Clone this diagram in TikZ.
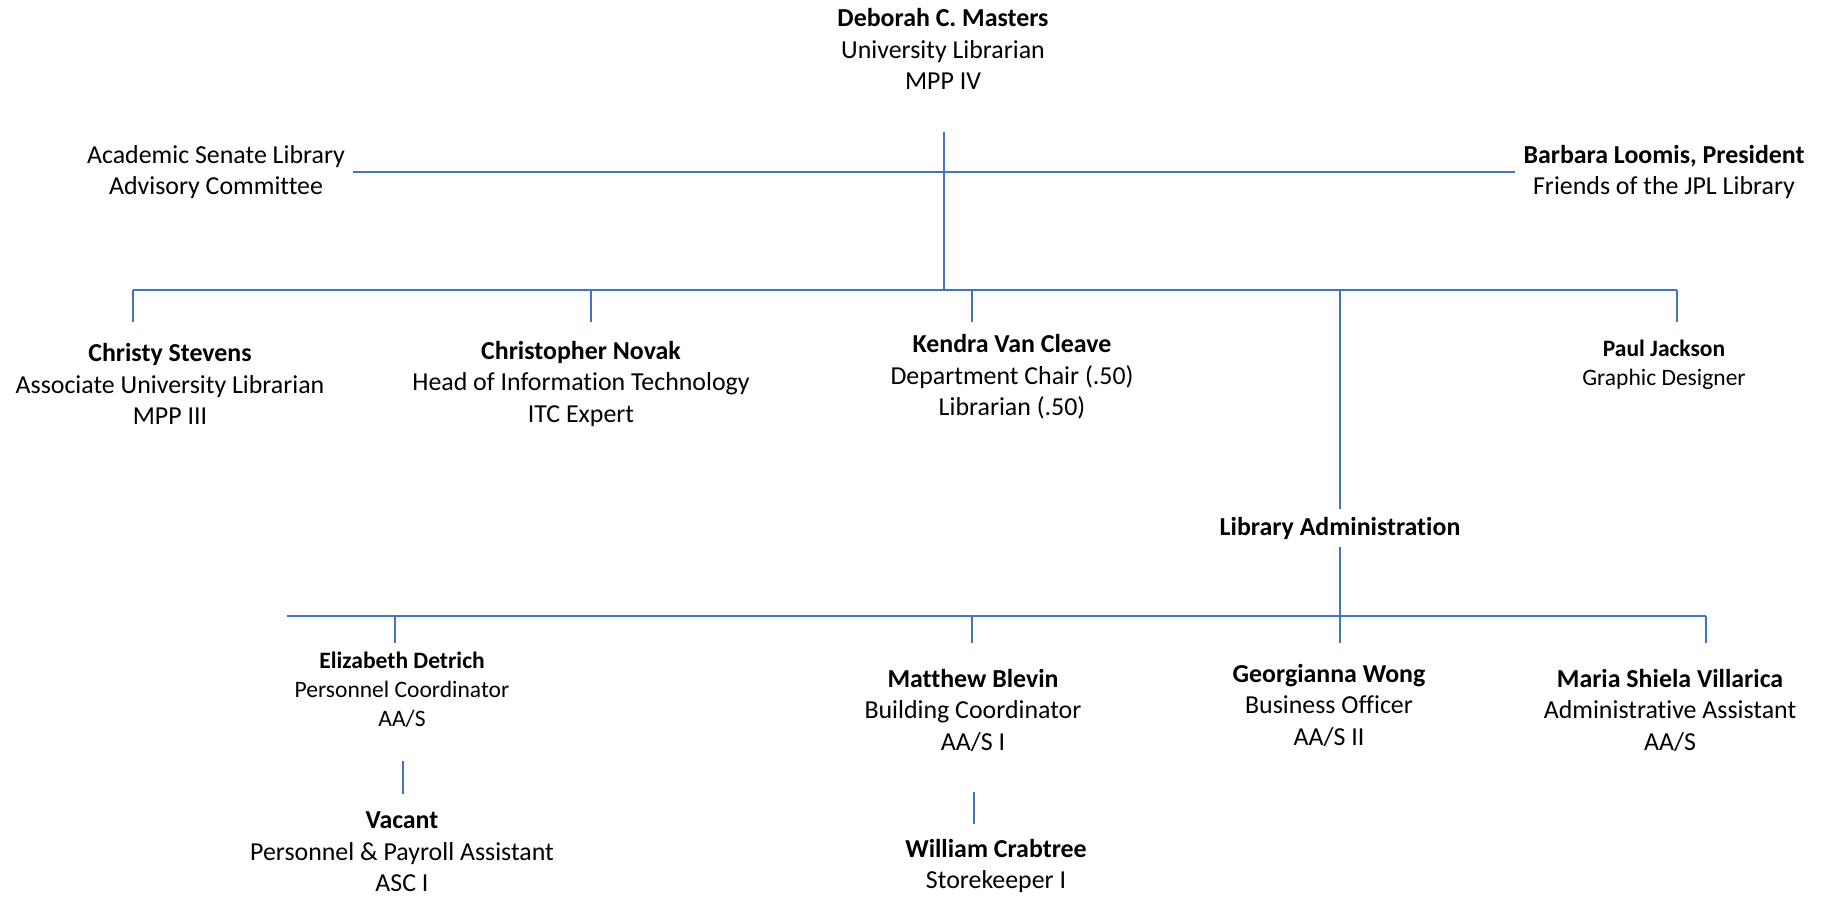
\documentclass[tikz,border=0pt]{standalone}
\usepackage{fontspec}
\setmainfont{Carlito}[Ligatures=NoCommon]
\definecolor{chartBlue}{HTML}{4472C4}

\begin{document}
\begin{tikzpicture}[x=0.425pt, y=-0.425pt,
	orgline/.style={draw=chartBlue, line width=0.5pt},
	person/.style={align=center, font=\fontsize{11}{13.4}\selectfont},
	smallperson/.style={align=center, font=\fontsize{10}{12.3}\selectfont}]

	\useasboundingbox (0,0) rectangle (1833,897);

	% levels of the chart
	\def \busTop {290};
	\def \dropTop {322};
	\def \busLow {616};
	\def \dropLow {643};

	% University Librarian
	\node [person] (ul) at (943,49) {\textbf{Deborah C. Masters}\\University Librarian\\MPP IV};
	\coordinate (ulFoot) at (944,132);
	\coordinate (topJoin) at (944,\busTop);
	\draw [orgline] (ulFoot) -- (topJoin);

	% advisory groups
	\node [person] (asc) at (216,172) {Academic Senate Library\\Advisory Committee};
	\node [person] (friends) at (1664,172) {\textbf{Barbara Loomis, President}\\Friends of the JPL Library};
	\draw [orgline] (asc.east) -- (friends.west);

	% first level
	\node [person] (aul) at (170,384) {\textbf{Christy Stevens}\\Associate University Librarian\\MPP III};
	\node [person] (it) at (581,384) {\textbf{Christopher Novak}\\Head of Information Technology\\ITC Expert};
	\node [person] (chair) at (1012,377) {\textbf{Kendra Van Cleave}\\Department Chair (.50)\\Librarian (.50)};
	\node [smallperson] (design) at (1664,365) {\textbf{Paul Jackson}\\Graphic Designer};

	\foreach \who/\x in {aul/133, it/591, chair/972, design/1677} {
		\coordinate (\who Tap) at (\x,\busTop);
		\coordinate (\who Foot) at (\x,\dropTop);
	}
	\draw [orgline] (aulTap) -- (designTap);
	\foreach \who in {aul, it, chair, design}
		\draw [orgline] (\who Tap) -- (\who Foot);

	% Library Administration
	\node [person] (admin) at (1340,528) {\textbf{Library Administration}};
	\coordinate (adminTap) at (1340,\busTop);
	\coordinate (busFoot) at (1340,\dropLow);
	\draw [orgline] (adminTap) -- (admin.north);
	\draw [orgline] (admin.south) -- (busFoot);

	% second level
	\node [smallperson] (pers) at (402,690) {\textbf{Elizabeth Detrich}\\Personnel Coordinator\\AA/S};
	\node [person] (bldg) at (973,710) {\textbf{Matthew Blevin}\\Building Coordinator\\AA/S I};
	\node [person] (bus) at (1329,705) {\textbf{Georgianna Wong}\\Business Officer\\AA/S II};
	\node [person] (aa) at (1670,710) {\textbf{Maria Shiela Villarica}\\Administrative Assistant\\AA/S};

	\coordinate (lowStart) at (287,\busLow);
	\foreach \who/\x in {pers/395, bldg/972, aa/1706} {
		\coordinate (\who Tap) at (\x,\busLow);
		\coordinate (\who Foot) at (\x,\dropLow);
	}
	\draw [orgline] (lowStart) -- (aaTap);
	\foreach \who in {pers, bldg, aa}
		\draw [orgline] (\who Tap) -- (\who Foot);

	% third level
	\node [person] (payroll) at (402,852) {\textbf{Vacant}\\Personnel \& Payroll Assistant\\ASC I};
	\node [person] (store) at (996,866) {\textbf{William Crabtree}\\Storekeeper I};
	\coordinate (persLink) at (403,761);
	\coordinate (payrollLink) at (403,794);
	\coordinate (bldgLink) at (974,792);
	\coordinate (storeLink) at (974,824);
	\draw [orgline] (persLink) -- (payrollLink);
	\draw [orgline] (bldgLink) -- (storeLink);

\end{tikzpicture}
\end{document}
